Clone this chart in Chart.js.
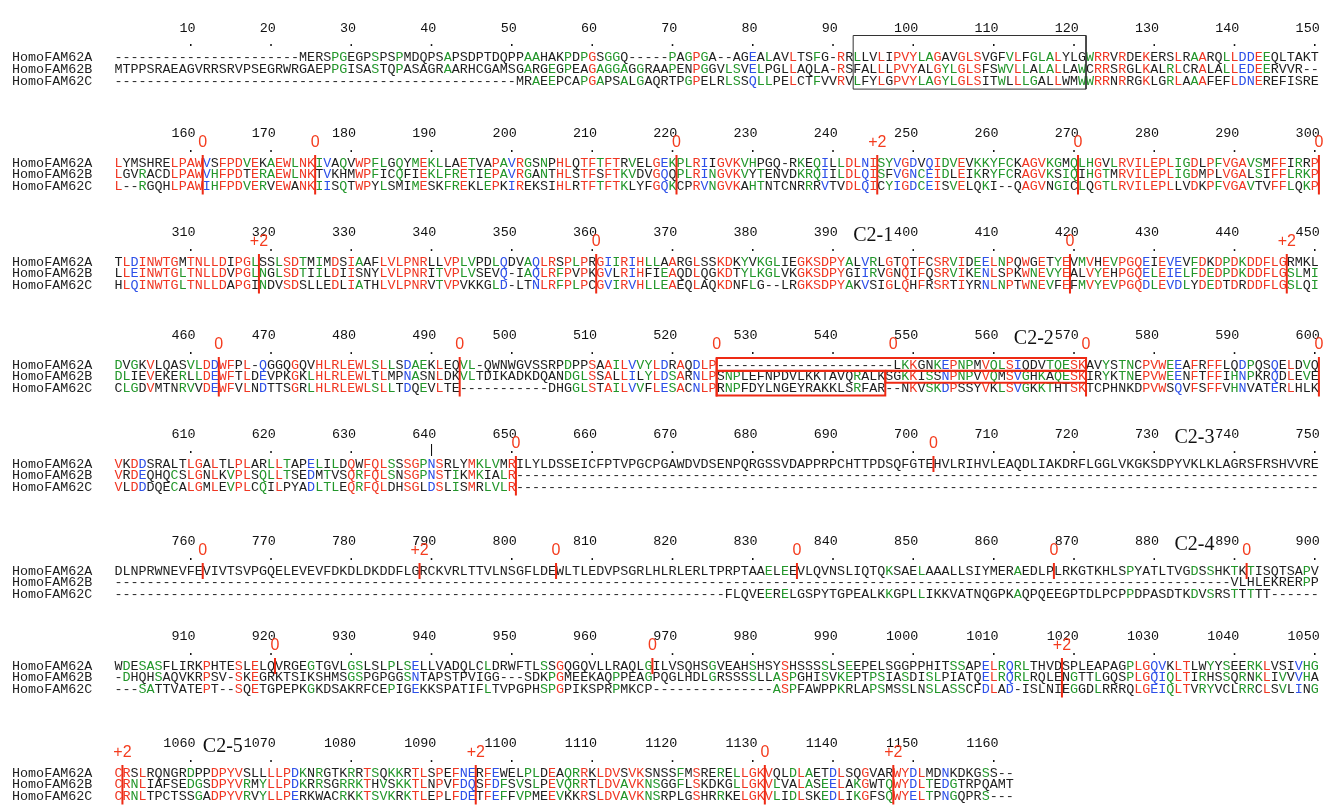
<!DOCTYPE html>
<html>
<head>
<meta charset="utf-8">
<script src="https://cdn.jsdelivr.net/npm/chart.js@4.4.0/dist/chart.umd.min.js"></script>
<style>
  html, body { margin: 0; padding: 0; background: #fff; }
  #wrap { width: 1331px; height: 809px; }
</style>
</head>
<body>
<div id="wrap"><canvas id="alnChart"></canvas></div>
<script>
// alignment data, one string per block of 150 columns
var seqNames = ['HomoFAM62A', 'HomoFAM62B', 'HomoFAM62C'];
var blockStarts = [1, 151, 301, 451, 601, 751, 901, 1051];
var blockEnds = [150, 300, 450, 600, 750, 900, 1050, 1162];

var famA = [
  '-----------------------MERSPGEGPSPSPMDQPSAPSDPTDQPPAAHAKPDPGSGGQ-----PAGPGA--AGEALAVLTSFG-RRLLVLIPVYLAGAVGLSVGFVLFGLALYLGWRRVRDEKERSLRAARQLLDDEEQLTAKT',
  'LYMSHRELPAWVSFPDVEKAEWLNKIVAQVWPFLGQYMEKLLAETVAPAVRGSNPHLQTFTFTRVELGEKPLRIIGVKVHPGQ-RKEQILLDLNISYVGDVQIDVEVKKYFCKAGVKGMQLHGVLRVILEPLIGDLPFVGAVSMFFIRRP',
  'TLDINWTGMTNLLDIPGLSSLSDTMIMDSIAAFLVLPNRLLVPLVPDLQDVAQLRSPLPRGIIRIHLLAARGLSSKDKYVKGLIEGKSDPYALVRLGTQTFCSRVIDEELNPQWGETYEVMVHEVPGQEIEVEVFDKDPDKDDFLGRMKL',
  'DVGKVLQASVLDDWFPL-QGGQGQVHLRLEWLSLLSDAEKLEQVL-QWNWGVSSRPDPPSAAILVVYLDRAQDLP----------------------LKKGNKEPNPMVQLSIQDVTQESKAVYSTNCPVWEEAFRFFLQDPQSQELDVQ',
  'VKDDSRALTLGALTLPLARLLTAPELILDQWFQLSSSGPNSRLYMKLVMRILYLDSSEICFPTVPGCPGAWDVDSENPQRGSSVDAPPRPCHTTPDSQFGTEHVLRIHVLEAQDLIAKDRFLGGLVKGKSDPYVKLKLAGRSFRSHVVRE',
  'DLNPRWNEVFEVIVTSVPGQELEVEVFDKDLDKDDFLGRCKVRLTTVLNSGFLDEWLTLEDVPSGRLHLRLERLTPRPTAAELEEVLQVNSLIQTQKSAELAAALLSIYMERAEDLPLRKGTKHLSPYATLTVGDSSHKTKTISQTSAPV',
  'WDESASFLIRKPHTESLELQVRGEGTGVLGSLSLPLSELLVADQLCLDRWFTLSSGQGQVLLRAQLGILVSQHSGVEAHSHSYSHSSSSLSEEPELSGGPPHITSSAPELRQRLTHVDSPLEAPAGPLGQVKLTLWYYSEERKLVSIVHG',
  'CRSLRQNGRDPPDPYVSLLLLPDKNRGTKRRTSQKKRTLSPEFNERFEWELPLDEAQRRKLDVSVKSNSSFMSRERELLGKVQLDLAETDLSQGVARWYDLMDNKDKGSS--'
];
var famB = [
  'MTPPSRAEAGVRRSRVPSEGRWRGAEPPGISASTQPASAGRAARHCGAMSGARGEGPEAGAGGAGGRAAPENPGGVLSVELPGLLAQLA-RSFALLLPVYALGYLGLSFSWVLLALALLAWCRRSRGLKALRLCRALALLEDEERVVR--',
  'LGVRACDLPAWVHFPDTERAEWLNKTVKHMWPFICQFIEKLFRETIEPAVRGANTHLSTFSFTKVDVGQQPLRINGVKVYTENVDKRQIILDLQISFVGNCEIDLEIKRYFCRAGVKSIQIHGTMRVILEPLIGDMPLVGALSIFFLRKP',
  'LLEINWTGLTNLLDVPGLNGLSDTIILDIISNYLVLPNRITVPLVSEVQ-IAQLRFPVPKGVLRIHFIEAQDLQGKDTYLKGLVKGKSDPYGIIRVGNQIFQSRVIKENLSPKWNEVYEALVYEHPGQELEIELFDEDPDKDDFLGSLMI',
  'DLIEVEKERLLDEWFTLDEVPKGKLHLRLEWLTLMPNASNLDKVLTDIKADKDQANDGLSSALLILYLDSARNLPSNPLEFNPDVLKKTAVQRALKSGKKISSNPNPVVQMSVGHKAQESKIRYKTNEPVWEENFTFFIHNPKRQDLEVE',
  'VRDEQHQCSLGNLKVPLSQLLTSEDMTVSQRFQLSNSGPNSTIKMKIALR----------------------------------------------------------------------------------------------------',
  '-------------------------------------------------------------------------------------------------------------------------------------------VLHLEKRERPP',
  '-DHQHSAQVKRPSV-SKEGRKTSIKSHMSGSPGPGGSNTAPSTPVIGG---SDKPGMEEKAQPPEAGPQGLHDLGRSSSSLLASPGHISVKEPTPSIASDISLPIATQELRQRLRQLENGTTLGQSPLGQIQLTIRHSSQRNKLIVVVHA',
  'CRNLIAFSEDGSDPYVRMYLLPDKRRSGRRKTHVSKKTLNPVFDQSFDFSVSLPEVQRRTLDVAVKNSGGFLSKDKGLLGKVLVALASEELAKGWTQWYDLTEDGTRPQAMT'
];
var famC = [
  '--------------------------------------------------MRAEEPCAPGAPSALGAQRTPGPELRLSSQLLPELCTFVVRVLFYLGPVYLAGYLGLSITWLLLGALLWMWWRRNRRGKLGRLAAAFEFLDNEREFISRE',
  'L--RGQHLPAWIHFPDVERVEWANKIISQTWPYLSMIMESKFREKLEPKIREKSIHLRTFTFTKLYFGQKCPRVNGVKAHTNTCNRRRVTVDLQICYIGDCEISVELQKI--QAGVNGICLQGTLRVILEPLLVDKPFVGAVTVFFLQKP',
  'HLQINWTGLTNLLDAPGINDVSDSLLEDLIATHLVLPNRVTVPVKKGLD-LTNLRFPLPCGVIRVHLLEAEQLAQKDNFLG--LRGKSDPYAKVSIGLQHFRSRTIYRNLNPTWNEVFEFMVYEVPGQDLEVDLYDEDTDRDDFLGSLQI',
  'CLGDVMTNRVVDEWFVLNDTTSGRLHLRLEWLSLLTDQEVLTE-----------DHGGLSTAILVVFLESACNLPRNPFDYLNGEYRAKKLSRFAR--NKVSKDPSSYVKLSVGKKTHTSKTCPHNKDPVWSQVFSFFVHNVATERLHLK',
  'VLDDDQECALGMLEVPLCQILPYADLTLEQRFQLDHSGLDSLISMRLVLR----------------------------------------------------------------------------------------------------',
  '----------------------------------------------------------------------------FLQVEERELGSPYTGPEALKKGPLLIKKVATNQGPKAQPQEEGPTDLPCPPDPASDTKDVSRSTTTTT------',
  '---SATTVATEPT--SQETGPEPKGKDSAKRFCEPIGEKKSPATIFLTVPGPHSPGPIKSPRPMKCP---------------ASPFAWPPKRLAPSMSSLNSLASSCFDLAD-ISLNIEGGDLRRRQLGEIQLTVRYVCLRRCLSVLING',
  'CRNLTPCTSSGADPYVRVYLLPERKWACRKKTSVKRKTLEPLFDETFEFFVPMEEVKKRSLDVAVKNSRPLGSHRRKELGKVLIDLSKEDLIKGFSQWYELTPNGQPRS---'
];

// exon boundaries: column just after the boundary, phase label, rows crossed
var exonCols   = [162, 176, 221, 246, 271, 301, 319, 361, 420, 447, 464, 494, 526, 548, 572, 601, 651, 703, 762, 789, 806, 836, 868, 892, 921, 968, 1019, 1052, 1096, 1132, 1148];
var exonLabels = ['0', '0', '0', '+2', '0', '0', '+2', '0', '0', '+2', '0', '0', '0', '0', '0', '0', '0', '0', '0', '+2', '0', '0', '0', '0', '0', '0', '+2', '+2', '+2', '0', '+2'];
var exonRows   = [3, 3, 3, 3, 3, 3, 3, 3, 3, 3, 3, 3, 3, 0, 3, 3, 3, 1, 1, 1, 1, 1, 1, 1, 1, 1, 3, 3, 3, 3, 3];

var domainNames = ['C2-1', 'C2-2', 'C2-3', 'C2-4', 'C2-5'];
var domainCols = [395, 565, 735, 885, 1064];

var tmCols = [93, 121];              // black box, transmembrane stretch
var lostExonA = [526, 571];          // red box on row A
var lostExonBC = [526, 546];         // red box on rows B and C
var tickMarks = { 640: '|' };

// layout
var ROW_GAP = 11.8;
var blockTop = [57.5, 163, 262, 365, 464, 571, 666, 773];
var MONO = '13.4px "Liberation Mono", "DejaVu Sans Mono", monospace';
var RED = '#f03622', GREEN = '#22962a', BLUE = '#2c4fe8', INK = '#1e1e1e';
var BAR_RED = '#ee2a14';
var simGroups = ['DENQ', 'IV'];

function residueColors(r) {
  var out = [INK, INK, INK];
  var full = r[0] !== '-' && r[1] !== '-' && r[2] !== '-';
  if (full && r[0] === r[1] && r[1] === r[2]) return [RED, RED, RED];
  if (full) {
    for (var g = 0; g < simGroups.length; g++) {
      if (simGroups[g].indexOf(r[0]) >= 0 && simGroups[g].indexOf(r[1]) >= 0 && simGroups[g].indexOf(r[2]) >= 0) {
        return [BLUE, BLUE, BLUE];
      }
    }
  }
  for (var i = 0; i < 3; i++) {
    if (r[i] === '-') continue;
    if (r[i] === r[(i + 1) % 3] || r[i] === r[(i + 2) % 3]) out[i] = GREEN;
  }
  return out;
}

function blockOfBoundary(col) {
  for (var b = blockStarts.length - 1; b >= 0; b--) {
    if (col - 1 >= blockStarts[b]) return b;
  }
  return 0;
}
function rowY(b, r) { return blockTop[b] + r * ROW_GAP; }

function rectData(x0, x1, y0, y1) {
  return [{x: x0, y: y0}, {x: x1, y: y0}, {x: x1, y: y1}, {x: x0, y: y1}, {x: x0, y: y0}];
}

var datasets = [];
exonCols.forEach(function (col, i) {
  if (!exonRows[i]) return;
  var b = blockOfBoundary(col);
  var v = col - blockStarts[b];
  datasets.push({
    data: [{x: v, y: rowY(b, 0) - 8}, {x: v, y: rowY(b, exonRows[i] - 1) + 8}],
    showLine: true, borderColor: BAR_RED, borderWidth: 2, pointRadius: 0, clip: false
  });
});
// transmembrane box
datasets.push({
  data: rectData(tmCols[0] - 1, tmCols[1], rowY(0, 0) - 22, rowY(0, 2) + 8),
  showLine: true, borderColor: '#333', borderWidth: 1, pointRadius: 0, clip: false
});
// red boxes in block 4
datasets.push({
  data: rectData(lostExonA[0] - 451, lostExonA[1] - 450, rowY(3, 0) - 7, rowY(3, 0) + 6),
  showLine: true, borderColor: BAR_RED, borderWidth: 2, pointRadius: 0, clip: false
});
datasets.push({
  data: rectData(lostExonBC[0] - 451, lostExonBC[1] - 450, rowY(3, 1) - 6, rowY(3, 2) + 7),
  showLine: true, borderColor: BAR_RED, borderWidth: 2, pointRadius: 0, clip: false
});
datasets.push({
  data: rectData(lostExonBC[1] - 450, lostExonA[1] - 450, rowY(3, 1) - 6, rowY(3, 1) + 6),
  showLine: true, borderColor: BAR_RED, borderWidth: 2, pointRadius: 0, clip: false
});

var alignText = {
  id: 'alignText',
  beforeDatasetsDraw: function (chart) {
    var ctx = chart.ctx, xs = chart.scales.x, ys = chart.scales.y;
    ctx.save();
    ctx.font = MONO;
    ctx.textBaseline = 'middle';
    for (var b = 0; b < blockStarts.length; b++) {
      var rows = [famA[b], famB[b], famC[b]];
      // names
      ctx.textAlign = 'left';
      ctx.fillStyle = INK;
      for (var r = 0; r < 3; r++) {
        ctx.fillText(seqNames[r], xs.getPixelForValue(-12.75), ys.getPixelForValue(rowY(b, r)));
      }
      // residues
      ctx.textAlign = 'center';
      for (var k = 0; k < rows[0].length; k++) {
        var col = [rows[0][k], rows[1][k], rows[2][k]];
        var cols = residueColors(col);
        for (r = 0; r < 3; r++) {
          ctx.fillStyle = cols[r];
          ctx.fillText(col[r], xs.getPixelForValue(k + 0.5), ys.getPixelForValue(rowY(b, r)));
        }
      }
      // position numbers and dots
      ctx.fillStyle = '#111';
      for (var n = Math.ceil(blockStarts[b] / 10) * 10; n <= blockEnds[b]; n += 10) {
        var off = n - blockStarts[b];
        ctx.textAlign = 'right';
        ctx.textBaseline = 'middle';
        ctx.fillText(String(n), xs.getPixelForValue(off + 1.1), ys.getPixelForValue(blockTop[b] - 29.5));
        ctx.textAlign = 'center';
        ctx.textBaseline = 'alphabetic';
        ctx.fillText(tickMarks[n] || '.', xs.getPixelForValue(off + 0.5), ys.getPixelForValue(blockTop[b] - 11.5));
      }
      ctx.textBaseline = 'middle';
    }
    // exon phase labels
    ctx.font = '16px "Liberation Sans", Arial, sans-serif';
    ctx.fillStyle = '#f43c1e';
    ctx.textAlign = 'center';
    exonCols.forEach(function (col, i) {
      var bb = blockOfBoundary(col);
      ctx.fillText(exonLabels[i], xs.getPixelForValue(col - blockStarts[bb]), ys.getPixelForValue(blockTop[bb] - 20));
    });
    // domain labels
    ctx.font = '20px "Liberation Serif", "Times New Roman", serif';
    ctx.fillStyle = '#111';
    domainCols.forEach(function (col, i) {
      var bb = blockOfBoundary(col + 1);
      ctx.fillText(domainNames[i], xs.getPixelForValue(col - blockStarts[bb] + 0.5), ys.getPixelForValue(blockTop[bb] - 26));
    });
    ctx.restore();
  }
};

new Chart(document.getElementById('alnChart'), {
  type: 'scatter',
  data: { datasets: datasets },
  options: {
    responsive: true,
    maintainAspectRatio: false,
    animation: false,
    layout: { padding: { left: 114.4, right: 12.1, top: 0, bottom: 0 } },
    plugins: { legend: { display: false }, tooltip: { enabled: false } },
    scales: {
      x: { type: 'linear', min: 0, max: 150, display: false },
      y: { type: 'linear', min: 0, max: 809, reverse: true, display: false }
    }
  },
  plugins: [alignText]
});
</script>
</body>
</html>
